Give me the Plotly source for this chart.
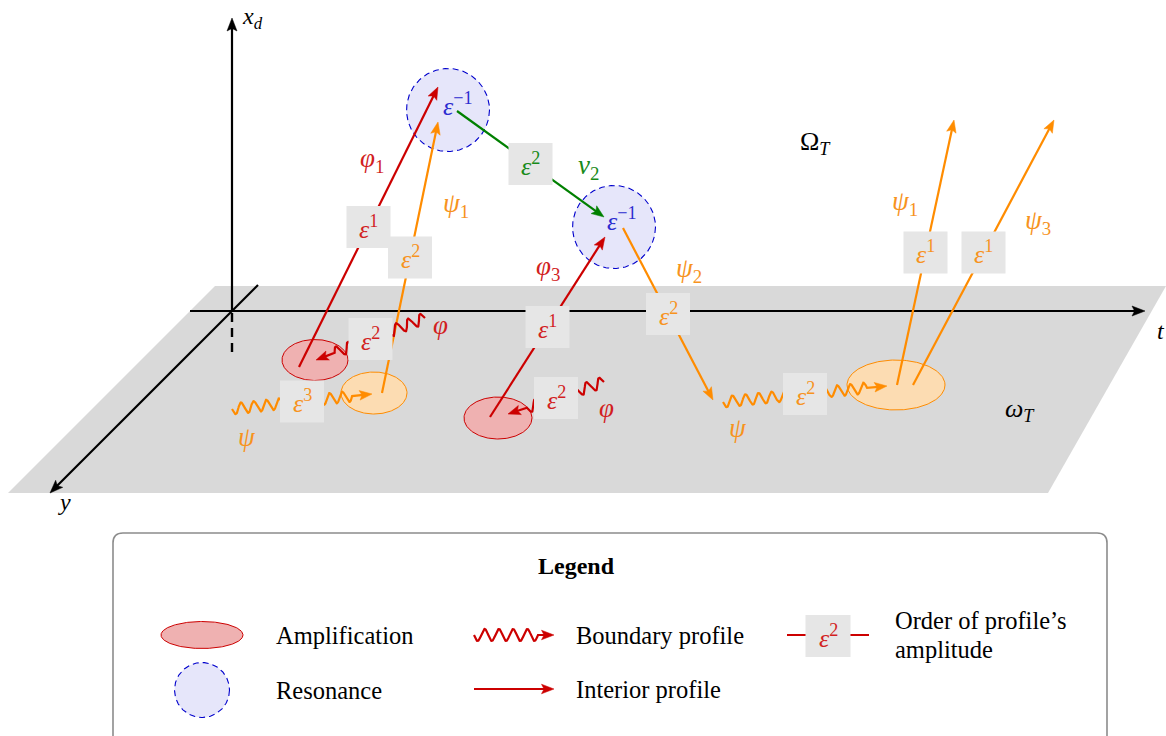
import numpy as np
import plotly.graph_objects as go

W, H = 1166, 736

# ---------------- data (diagram geometry, pixel space) ----------------
plane_x = [215, 1166, 1048, 8]
plane_y = [286, 286, 493, 493]

axis_start_x = [190, 232, 258]
axis_start_y = [311, 311, 285]
axis_end_x = [1145, 232, 50]
axis_end_y = [311, 18, 493]
axis_label_text = ["<i>t</i>", "<i>x</i><sub><i>d</i></sub>", "<i>y</i>"]
axis_label_x = [1161, 252, 64]
axis_label_y = [331, 18, 502]
dash_x = [232, 232]
dash_y = [313, 353]

amp_cx = [315, 498]
amp_cy = [360, 418]
amp_rx = [33, 34]
amp_ry = [20.5, 21]

gen_cx = [374, 896]
gen_cy = [393, 385]
gen_rx = [33, 49]
gen_ry = [21, 25]

res_cx = [448, 614]
res_cy = [110, 227]
res_r = [41.5, 41.5]
res_text_x = [458, 622]
res_text_y = [104, 219]

int_x0 = [299, 382, 457, 490, 623, 897, 913]
int_y0 = [367, 393, 111, 417, 228, 385, 385]
int_x1 = [438, 438, 604, 605, 713, 954, 1054]
int_y1 = [87, 122, 217, 237, 400, 120, 120]
int_color = ["red", "orange", "green", "red", "orange", "orange", "orange"]
int_order = ["1", "2", "2", "1", "2", "1", "1"]
int_label = ["φ", "ψ", "ν", "φ", "ψ", "ψ", "ψ"]
int_label_sub = ["1", "1", "2", "3", "2", "1", "3"]
int_label_x = [372, 456, 588, 548, 689, 905, 1038]
int_label_y = [160, 205, 167, 268, 270, 203, 222]

bnd_x0 = [425, 232, 604, 723]
bnd_y0 = [318, 409, 382, 402]
bnd_x1 = [316, 372, 508, 887]
bnd_y1 = [360, 394, 414, 386]
bnd_color = ["red", "orange", "red", "orange"]
bnd_order = ["2", "3", "2", "2"]
bnd_label = ["φ", "ψ", "φ", "ψ"]
bnd_label_x = [440, 247, 606, 738]
bnd_label_y = [325, 437, 408, 428]

region_text = ["Ω<sub><i>T</i></sub>", "<i>ω</i><sub><i>T</i></sub>"]
region_x = [815, 1020]
region_y = [143, 410]

legend_title = "<b>Legend</b>"
legend_items = ["Amplification", "Resonance", "Boundary profile", "Interior profile",
                "Order of profile’s", "amplitude"]
legend_item_x = [274, 274, 574, 574, 893, 893]
legend_item_y = [635, 690, 635, 689, 620, 649]

# ---------------- style ----------------
COL = {"red": "#cc0000", "orange": "#ff8c00", "green": "#008000", "blue": "#0000cc"}
TXT = {"red": "#d21f1f", "orange": "#f7931e", "green": "#178a17", "blue": "#2b2bd0"}
FONT = "Liberation Serif"
LW = 2.2
BOX_W, BOX_H = 44, 42
BOX_FILL = "#e6e6e6"

fig = go.Figure()


def add_poly(xs, ys, fill, line_color=None, width=0, dash=None):
    fig.add_trace(go.Scatter(
        x=list(xs) + [xs[0]], y=list(ys) + [ys[0]], mode="lines", fill="toself",
        fillcolor=fill,
        line=dict(color=line_color if line_color else fill, width=width, dash=dash),
        hoverinfo="skip", showlegend=False))


def add_line(xs, ys, color, width=LW, dash=None):
    fig.add_trace(go.Scatter(x=list(xs), y=list(ys), mode="lines",
                             line=dict(color=color, width=width, dash=dash),
                             hoverinfo="skip", showlegend=False))


def head_pts(x0, y0, x1, y1, L=12.5, w=4.8):
    d = np.array([x1 - x0, y1 - y0], float)
    u = d / np.linalg.norm(d)
    p = np.array([-u[1], u[0]])
    tip = np.array([x1, y1], float)
    base = tip - L * u
    notch = tip - 0.8 * L * u
    a = base + w * p
    b = base - w * p
    return [tip[0], a[0], notch[0], b[0]], [tip[1], a[1], notch[1], b[1]], u


def arrow(x0, y0, x1, y1, color, width=LW, L=12.5, w=4.8):
    hx, hy, u = head_pts(x0, y0, x1, y1, L, w)
    add_line([x0, x1 - 0.7 * L * u[0]], [y0, y1 - 0.7 * L * u[1]], color, width)
    add_poly(hx, hy, color, color, 0.5)


def wavy_arrow(x0, y0, x1, y1, color, amp=5.5, lam=13.0, post=20, width=LW, L=12.5, w=4.8):
    s = np.array([x0, y0], float)
    e = np.array([x1, y1], float)
    d = e - s
    D = np.linalg.norm(d)
    u = d / D
    p = np.array([-u[1], u[0]])
    wl = D - post
    n = max(1, round(wl / (lam / 2)))
    lam2 = 2 * wl / n
    t = np.linspace(0, wl, 400)
    off = amp * np.sin(2 * np.pi * t / lam2)
    pts = s[None, :] + t[:, None] * u[None, :] + off[:, None] * p[None, :]
    endl = e - 0.7 * L * u
    xs = list(pts[:, 0]) + [endl[0]]
    ys = list(pts[:, 1]) + [endl[1]]
    add_line(xs, ys, color, width)
    hx, hy, _ = head_pts(x0, y0, x1, y1, L, w)
    add_poly(hx, hy, color, color, 0.5)


def ellipse(cx, cy, rx, ry, fill, line_color, width=1.0, dash=None):
    th = np.linspace(0, 2 * np.pi, 200)
    add_poly(cx + rx * np.cos(th), cy + ry * np.sin(th), fill, line_color, width, dash)


def box(cx, cy, w=BOX_W, h=BOX_H):
    add_poly([cx - w / 2, cx + w / 2, cx + w / 2, cx - w / 2],
             [cy - h / 2, cy - h / 2, cy + h / 2, cy + h / 2], BOX_FILL, BOX_FILL, 0)


annotations = []


def text(x, y, s, color="black", size=26, xanchor="center"):
    annotations.append(dict(x=x, y=y, xref="x", yref="y", text=s, showarrow=False,
                            xanchor=xanchor, yanchor="middle",
                            font=dict(family=FONT, size=size, color=color)))


def eps(order):
    return "<i>ε</i><sup>" + order.replace("-", "−") + "</sup>"


# ---------------- plane ----------------
add_poly(plane_x, plane_y, "#d9d9d9")

# ---------------- coordinate axes ----------------
for i in range(3):
    arrow(axis_start_x[i], axis_start_y[i], axis_end_x[i], axis_end_y[i], "black", 2.2, 13, 5)
    text(axis_label_x[i], axis_label_y[i], axis_label_text[i], "black", 24)
add_line(dash_x, dash_y, "black", 2.4, "9px,6px")

# ---------------- ellipses / circles ----------------
for i in range(len(amp_cx)):
    ellipse(amp_cx[i], amp_cy[i], amp_rx[i], amp_ry[i], "#efb1b1", COL["red"], 1.0)
for i in range(len(gen_cx)):
    ellipse(gen_cx[i], gen_cy[i], gen_rx[i], gen_ry[i], "#fcdcb2", COL["orange"], 1.0)
for i in range(len(res_cx)):
    ellipse(res_cx[i], res_cy[i], res_r[i], res_r[i], "#e6e6fa", COL["blue"], 1.1, "6px,4px")
    text(res_text_x[i], res_text_y[i], eps("-1"), TXT["blue"], 26)

# ---------------- interior profiles ----------------
for i in range(len(int_x0)):
    arrow(int_x0[i], int_y0[i], int_x1[i], int_y1[i], COL[int_color[i]])
for i in range(len(int_x0)):
    mx = (int_x0[i] + int_x1[i]) / 2
    my = (int_y0[i] + int_y1[i]) / 2
    box(mx, my)
    text(mx, my, eps(int_order[i]), TXT[int_color[i]], 26)
    text(int_label_x[i], int_label_y[i],
         "<i>" + int_label[i] + "</i><sub>" + int_label_sub[i] + "</sub>",
         TXT[int_color[i]], 27)

# ---------------- boundary profiles ----------------
for i in range(len(bnd_x0)):
    wavy_arrow(bnd_x0[i], bnd_y0[i], bnd_x1[i], bnd_y1[i], COL[bnd_color[i]])
for i in range(len(bnd_x0)):
    mx = (bnd_x0[i] + bnd_x1[i]) / 2
    my = (bnd_y0[i] + bnd_y1[i]) / 2
    box(mx, my)
    text(mx, my, eps(bnd_order[i]), TXT[bnd_color[i]], 26)
    text(bnd_label_x[i], bnd_label_y[i], "<i>" + bnd_label[i] + "</i>", TXT[bnd_color[i]], 27)

# ---------------- region labels ----------------
for i in range(len(region_text)):
    text(region_x[i], region_y[i], region_text[i], "black", 26)

# ---------------- legend panel ----------------
lx0, ly0, lx1, ly1, r = 113, 533, 1107, 760, 10
fig.add_shape(type="path", xref="x", yref="y", layer="below",
              path=(f"M {lx0 + r},{ly0} L {lx1 - r},{ly0} Q {lx1},{ly0} {lx1},{ly0 + r} "
                    f"L {lx1},{ly1 - r} Q {lx1},{ly1} {lx1 - r},{ly1} L {lx0 + r},{ly1} "
                    f"Q {lx0},{ly1} {lx0},{ly1 - r} L {lx0},{ly0 + r} Q {lx0},{ly0} {lx0 + r},{ly0} Z"),
              line=dict(color="#8c8c8c", width=1.6), fillcolor="white")

text(576, 566, legend_title, "black", 24)
ellipse(202, 635, 41, 13.5, "#efb1b1", COL["red"], 1.0)
ellipse(202, 690, 27.5, 27.5, "#e6e6fa", COL["blue"], 1.1, "6px,4px")
wavy_arrow(474, 635, 554, 635, COL["red"], amp=6, lam=13.5, post=16)
arrow(474, 689, 554, 689, COL["red"])
add_line([787, 869], [635, 635], COL["red"], LW)
box(828, 636, 45, 42)
text(828, 636, eps("2"), TXT["red"], 26)
for i in range(len(legend_items)):
    text(legend_item_x[i], legend_item_y[i], legend_items[i], "black", 24.5, "left")

fig.update_layout(
    width=W, height=H, margin=dict(l=0, r=0, t=0, b=0, pad=0),
    paper_bgcolor="white", plot_bgcolor="white", showlegend=False,
    xaxis=dict(range=[0, W], visible=False, fixedrange=True),
    yaxis=dict(range=[H, 0], visible=False, fixedrange=True),
    annotations=annotations,
)

fig.write_html("out.html", config={"displayModeBar": False},
               post_script="document.body.style.margin='0';document.body.style.overflow='hidden';")
